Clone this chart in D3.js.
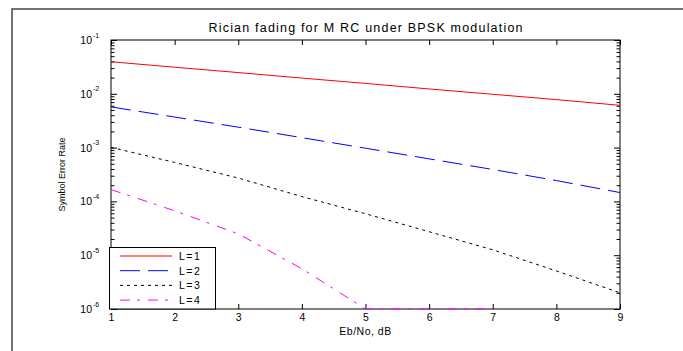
<!DOCTYPE html>
<html><head><meta charset="utf-8">
<script src="https://cdn.jsdelivr.net/npm/d3@7"></script>
<style>
html,body{margin:0;padding:0;background:#fff;}
svg{display:block;font-family:"Liberation Sans",Arial,sans-serif;}
</style></head>
<body><svg id="c" width="683" height="351"></svg>
<script>
// ---- data ----
const ebno = [1, 2, 3, 4, 5, 6, 7, 8, 9];
const serL1 = [0.0394, 0.0312, 0.0248, 0.0196, 0.0156, 0.0123, 0.0098, 0.0078, 0.0061];
const serL2 = [0.0057, 0.0037, 0.0024, 0.00153, 0.000975, 0.000618, 0.000392, 0.000244, 0.000146];
const serL3 = [0.00101, 0.00053, 0.000272, 0.000123, 5.9e-5, 2.73e-5, 1.26e-5, 5.1e-6, 2.0e-6];
const serL4 = [1.66e-4, 6.7e-5, 2.5e-5, 5.6e-6, 1e-6, 1e-6, 1e-6, null, null];
const seriesNames = ["L=1", "L=2", "L=3", "L=4"];
const xTickValues = [1, 2, 3, 4, 5, 6, 7, 8, 9];
const yDecadeExps = [-1, -2, -3, -4, -5, -6];
const titleText = "Rician fading for M RC under BPSK modulation";
const xLabelText = "Eb/No, dB";
const yLabelText = "Symbol Error Rate";

// ---- styles ----
const colors = ["#ff0000", "#0000ff", "#000000", "#ff00ff"];
const dashes = [null, "20,8", "3,4", "10,7,3,8"];

const svg = d3.select("#c");
const L = 111, R = 620, T = 40, B = 309;

// outer frame (top and left edges visible)
svg.append("path").attr("d", "M12,351 L12,9 L683,9")
  .attr("fill", "none").attr("stroke", "#444").attr("stroke-width", 1.5);

const x = d3.scaleLinear().domain([1, 9]).range([L, R]);
const y = d3.scaleLog().domain([1e-6, 1e-1]).range([B, T]);

const decades = yDecadeExps.map(e => Math.pow(10, e));
const minor = y.ticks().filter(v => !decades.some(d => Math.abs(d - v) / d < 1e-6));

// plot box
svg.append("rect").attr("x", L).attr("y", T).attr("width", R - L).attr("height", B - T)
  .attr("fill", "#fff").attr("stroke", "#000").attr("stroke-width", 1);

function styleAxis(g) { g.select(".domain").remove(); g.selectAll("line").attr("stroke", "#000"); }

// x axes
const gxb = svg.append("g").attr("transform", `translate(0,${B})`)
  .call(d3.axisBottom(x).tickValues(xTickValues).tickSize(-5).tickPadding(5).tickFormat(d3.format("d")));
styleAxis(gxb);
gxb.selectAll("text").attr("font-size", 10.5).attr("fill", "#000").attr("font-family", "Liberation Sans, Arial, sans-serif");
const gxt = svg.append("g").attr("transform", `translate(0,${T})`)
  .call(d3.axisTop(x).tickValues(xTickValues).tickSize(-5).tickFormat(""));
styleAxis(gxt);

// y axes: majors and minors, left and right
[[L, d3.axisLeft], [R, d3.axisRight]].forEach(([px, ax]) => {
  const gM = svg.append("g").attr("transform", `translate(${px},0)`)
    .call(ax(y).tickValues(decades).tickSize(-6).tickFormat(""));
  styleAxis(gM);
  const gm = svg.append("g").attr("transform", `translate(${px},0)`)
    .call(ax(y).tickValues(minor).tickSize(-3.5).tickFormat(""));
  styleAxis(gm);
});

// y tick labels with superscripts
const yl = svg.append("g").selectAll("g").data(yDecadeExps).join("g")
  .attr("transform", e => `translate(${L - 19},${y(Math.pow(10, e))})`);
yl.append("text").attr("x", 0).attr("y", 4).attr("text-anchor", "end")
  .attr("font-size", 10.5).text("10");
yl.append("text").attr("x", 1).attr("y", -2.5).attr("text-anchor", "start")
  .attr("font-size", 7).text(e => String(e));

// lines
const allSeries = [serL1, serL2, serL3, serL4];
const line = d3.line().defined(d => d.v != null).x(d => x(d.x)).y(d => y(d.v));
const plotG = svg.append("g");
allSeries.forEach((s, i) => {
  const pts = ebno.map((xv, k) => ({ x: xv, v: s[k] }));
  plotG.append("path").datum(pts).attr("d", line)
    .attr("fill", "none").attr("stroke", colors[i]).attr("stroke-width", 1)
    .attr("stroke-dasharray", dashes[i]);
});

// legend
const lg = svg.append("g");
lg.append("rect").attr("x", 109.5).attr("y", 247.5).attr("width", 106).attr("height", 61.5)
  .attr("fill", "#fff").attr("stroke", "#000").attr("stroke-width", 1);
seriesNames.forEach((n, i) => {
  const yy = 256 + i * 14.7;
  lg.append("line").attr("x1", 120).attr("x2", 172).attr("y1", yy).attr("y2", yy)
    .attr("stroke", colors[i]).attr("stroke-width", 1).attr("stroke-dasharray", dashes[i]);
  lg.append("text").attr("x", 179).attr("y", yy + 4).attr("font-size", 10.5)
    .attr("letter-spacing", 1.5).text(n);
});

// title and axis labels
svg.append("text").attr("x", (L + R) / 2).attr("y", 32).attr("text-anchor", "middle")
  .attr("font-size", 12.5).attr("textLength", 314).attr("lengthAdjust", "spacing").text(titleText);
svg.append("text").attr("x", (L + R) / 2).attr("y", 335).attr("text-anchor", "middle")
  .attr("font-size", 10.5).attr("letter-spacing", 0.5).text(xLabelText);
svg.append("text").attr("transform", `translate(65,${(T + B) / 2}) rotate(-90)`)
  .attr("text-anchor", "middle").attr("font-size", 9).text(yLabelText);
</script></body></html>
